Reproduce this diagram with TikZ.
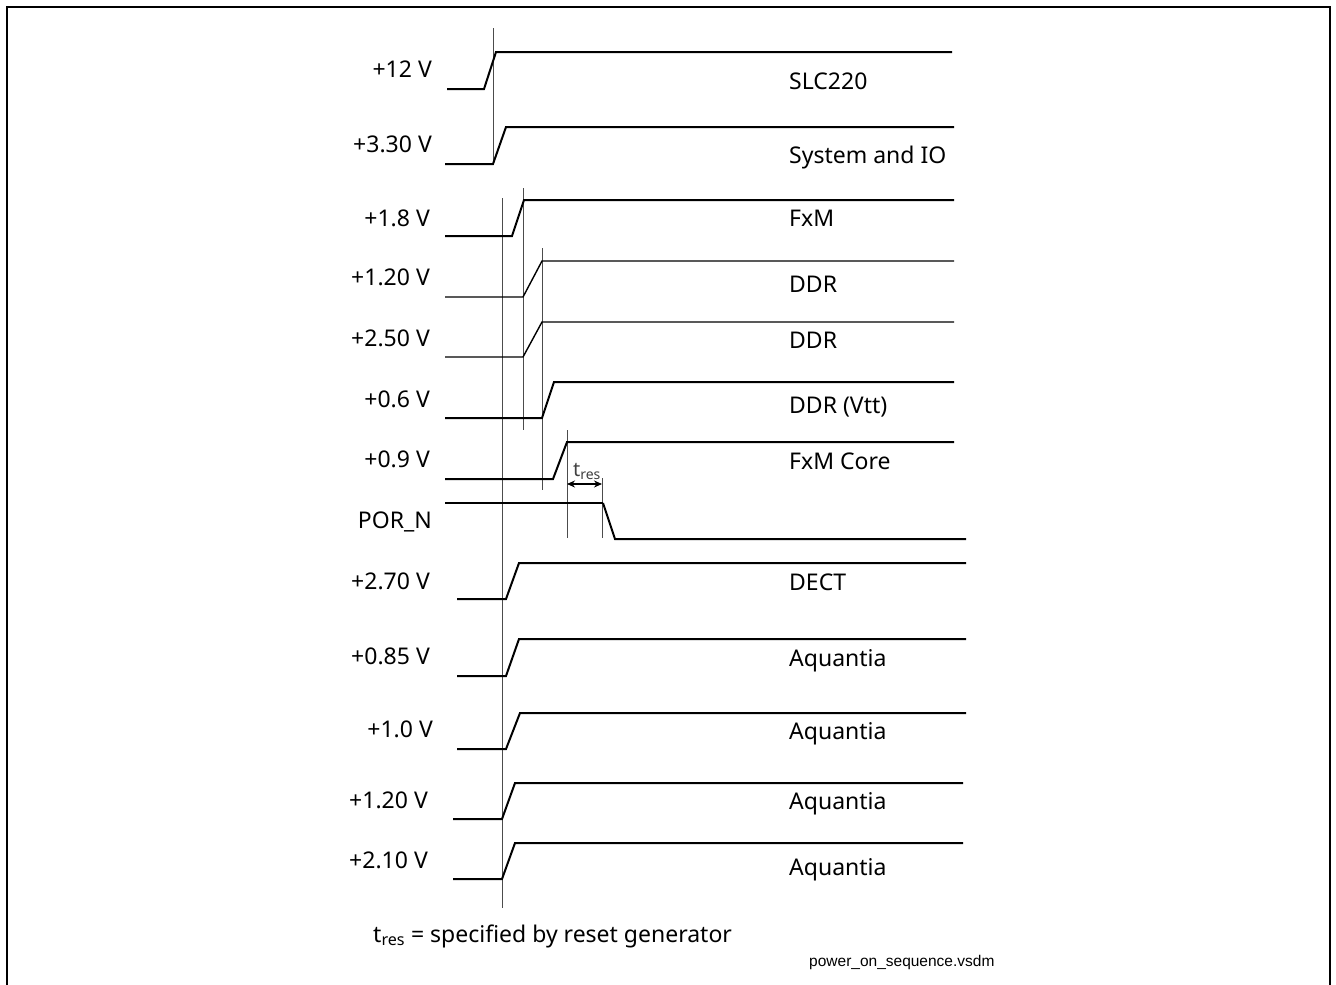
\documentclass[tikz,border=0pt]{standalone}
\usepackage{fontspec}
\setmainfont{Noto Sans}
\newfontfamily\arialf{Liberation Sans}
\usetikzlibrary{arrows.meta}
\begin{document}
\begin{tikzpicture}[x=1pt,y=-1pt,
  thicksig/.style={line width=2pt,line join=miter,draw=black},
  thinsig/.style={line width=1.4pt,line join=miter,draw=black},
  guide/.style={line width=0.9pt,draw=black!70},
  frameline/.style={line width=2pt,draw=black},
  vlabel/.style={anchor=base east,inner sep=0pt,font=\fontsize{23}{27}\selectfont},
  rlabel/.style={anchor=base west,inner sep=0pt,font=\fontsize{23}{27}\selectfont},
  tres/.style={inner sep=0pt,text=black!75,font=\fontsize{20}{24}\selectfont}]
\useasboundingbox (0,0) rectangle (1336,985);
% frame
\draw[frameline] (7,985) -- (7,7) -- (1330,7) -- (1330,985);
% guide lines
\draw[guide] (493,28) -- (493,164);
\draw[guide] (502,198) -- (502,908);
\draw[guide] (523,188) -- (523,430);
\draw[guide] (542,248) -- (542,490);
\draw[guide] (567,430) -- (567,538);
\draw[guide] (602,478) -- (602,538);
% signals
\draw[thicksig] (447,89) -- (484,89) -- (496,52) -- (952,52);
\draw[thicksig] (445,164) -- (493,164) -- (506,127) -- (954,127);
\draw[thicksig] (445,236) -- (512,236) -- (524,200) -- (954,200);
\draw[thinsig] (445,297) -- (523,297) -- (542,261) -- (954,261);
\draw[thinsig] (445,357) -- (523,357) -- (542,322) -- (954,322);
\draw[thicksig] (445,418) -- (542,418) -- (554,382) -- (954,382);
\draw[thicksig] (445,479) -- (553,479) -- (567,442) -- (954,442);
\draw[thinsig] (445,503) -- (603,503);
\draw[thicksig] (603,503) -- (615,539) -- (966,539);
\draw[thicksig] (457,599) -- (506,599) -- (519,563) -- (966,563);
\draw[thicksig] (457,676) -- (506,676) -- (519,639) -- (966,639);
\draw[thicksig] (457,749) -- (506,749) -- (520,713) -- (966,713);
\draw[thicksig] (453,819) -- (502,819) -- (515,783) -- (963,783);
\draw[thicksig] (453,879) -- (502,879) -- (515,843) -- (963,843);
% t_res arrow
\coordinate (ta) at (567,484);
\coordinate (tb) at (602,484);
\draw[line width=1.1pt,{Stealth[length=8pt,width=7pt]}-{Stealth[length=8pt,width=7pt]}] (ta) -- (tb);
\node[tres,anchor=base] (tr) at (587,476) {t\textsubscript{res}};
% left labels
\node[vlabel] (l1) at (432,77) {+12 V};
\node[vlabel] (l2) at (432,152) {+3.30 V};
\node[vlabel] (l3) at (430,226) {+1.8 V};
\node[vlabel] (l4) at (430,285) {+1.20 V};
\node[vlabel] (l5) at (430,346) {+2.50 V};
\node[vlabel] (l6) at (430,407) {+0.6 V};
\node[vlabel] (l7) at (430,467) {+0.9 V};
\node[vlabel] (l8) at (432,528) {POR\_N};
\node[vlabel] (l9) at (430,589) {+2.70 V};
\node[vlabel] (l10) at (430,664) {+0.85 V};
\node[vlabel] (l11) at (433,737) {+1.0 V};
\node[vlabel] (l12) at (428,808) {+1.20 V};
\node[vlabel] (l13) at (428,868) {+2.10 V};
% right labels
\node[rlabel] (r1) at (789,89) {SLC220};
\node[rlabel] (r2) at (789,163) {System and IO};
\node[rlabel] (r3) at (789,226) {FxM};
\node[rlabel] (r4) at (789,292) {DDR};
\node[rlabel] (r5) at (789,348) {DDR};
\node[rlabel] (r6) at (789,413) {DDR (Vtt)};
\node[rlabel] (r7) at (789,469) {FxM Core};
\node[rlabel] (r8) at (789,590) {DECT};
\node[rlabel] (r9) at (789,666) {Aquantia};
\node[rlabel] (r10) at (789,739) {Aquantia};
\node[rlabel] (r11) at (789,809) {Aquantia};
\node[rlabel] (r12) at (789,875) {Aquantia};
% footnote
\node[rlabel] (note) at (373,942) {t\textsubscript{res} = specified by reset generator};
\node[anchor=base west,inner sep=0pt,font=\arialf\fontsize{15.5}{18}\selectfont] (fname) at (809,966) {power\_on\_sequence.vsdm};
\end{tikzpicture}
\end{document}
